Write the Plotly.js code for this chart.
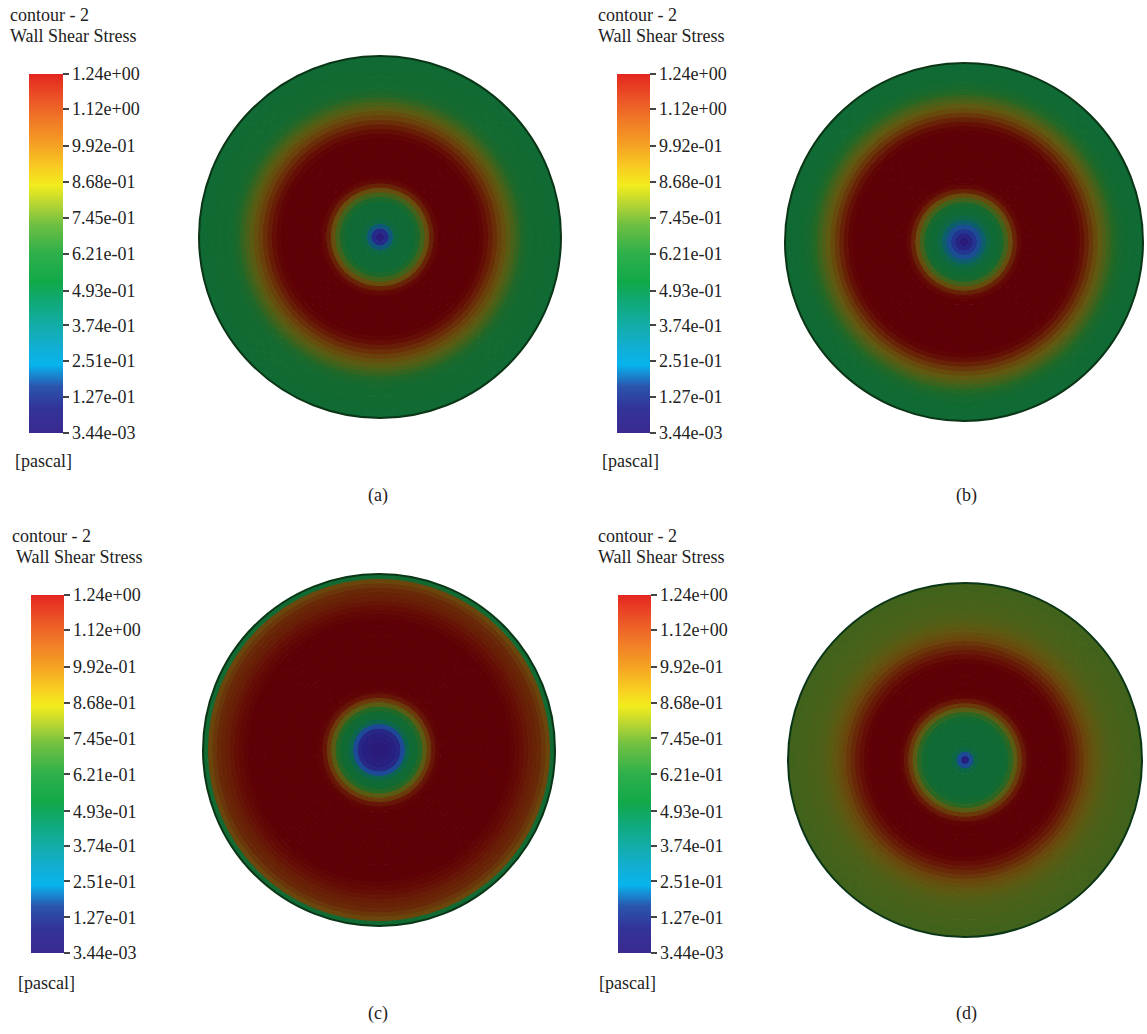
<!DOCTYPE html>
<html>
<head>
<meta charset="utf-8">
<script src="https://cdn.plot.ly/plotly-3.0.1.min.js"></script>
<style>html,body{margin:0;padding:0;background:#fff;}#chart{width:1147px;height:1034px;}</style>
</head>
<body>
<div id="chart"></div>
<script>
// ---- data ----
const tickValues = [0.00344, 0.127, 0.251, 0.374, 0.493, 0.621, 0.745, 0.868, 0.992, 1.12, 1.24];
const tickLabels = ["3.44e-03", "1.27e-01", "2.51e-01", "3.74e-01", "4.93e-01", "6.21e-01", "7.45e-01", "8.68e-01", "9.92e-01", "1.12e+00", "1.24e+00"];
const panelLabels = ["(a)", "(b)", "(c)", "(d)"];
const titleLine1 = "contour - 2";
const titleLine2 = "Wall Shear Stress";
const unitLabel = "[pascal]";

// normalised radius of ring edges (0 = centre, 1 = disk rim)
const radiusEdges = [0, 0.025, 0.05, 0.075, 0.1, 0.125, 0.15, 0.175, 0.2, 0.225,
  0.25, 0.275, 0.3, 0.325, 0.35, 0.375, 0.4, 0.425, 0.45, 0.475,
  0.5, 0.525, 0.55, 0.575, 0.6, 0.625, 0.65, 0.675, 0.7, 0.725,
  0.75, 0.775, 0.8, 0.825, 0.85, 0.875, 0.9, 0.925, 0.95, 0.975, 1.0];

// wall shear stress [Pa] read along the radius of each disk
const wssA = [0.02, 0.08, 0.30, 0.50, 0.56, 0.58, 0.58, 0.60, 0.68, 0.80,
  0.95, 1.10, 1.20, 1.24, 1.24, 1.24, 1.24, 1.24, 1.24, 1.24,
  1.24, 1.24, 1.22, 1.18, 1.12, 1.06, 1.00, 0.94, 0.88, 0.82,
  0.76, 0.70, 0.66, 0.64, 0.63, 0.64, 0.63, 0.62, 0.62, 0.60];
const wssB = [0.01, 0.05, 0.12, 0.22, 0.35, 0.48, 0.56, 0.60, 0.66, 0.80,
  0.95, 1.10, 1.20, 1.24, 1.24, 1.24, 1.24, 1.24, 1.24, 1.24,
  1.24, 1.24, 1.24, 1.24, 1.24, 1.22, 1.17, 1.10, 1.03, 0.96,
  0.90, 0.84, 0.78, 0.72, 0.67, 0.64, 0.62, 0.62, 0.61, 0.60];
const wssC = [0.01, 0.01, 0.02, 0.03, 0.06, 0.20, 0.45, 0.58, 0.62, 0.72,
  0.88, 1.02, 1.15, 1.22, 1.24, 1.24, 1.24, 1.24, 1.24, 1.24,
  1.24, 1.24, 1.24, 1.24, 1.24, 1.24, 1.24, 1.24, 1.24, 1.24,
  1.22, 1.20, 1.18, 1.15, 1.12, 1.10, 1.08, 1.03, 0.98, 0.62];
const wssD = [0.03, 0.22, 0.48, 0.56, 0.58, 0.58, 0.58, 0.58, 0.60, 0.64,
  0.74, 0.88, 1.02, 1.14, 1.22, 1.24, 1.24, 1.24, 1.24, 1.24,
  1.24, 1.24, 1.22, 1.18, 1.13, 1.08, 1.03, 0.98, 0.94, 0.91,
  0.88, 0.86, 0.84, 0.83, 0.82, 0.82, 0.81, 0.81, 0.80, 0.80];
const panelValues = [wssA, wssB, wssC, wssD];

// ---- styles ----
const W = 1147, H = 1034;
const barScale = [
  [0.00, '#3a2a8e'], [0.07, '#33339a'], [0.13, '#2a55ad'], [0.19, '#08b4ee'],
  [0.24, '#12aed2'], [0.30, '#13ada8'], [0.36, '#10a97a'], [0.42, '#11a84a'],
  [0.50, '#2eb04a'], [0.58, '#6ebf42'], [0.64, '#b9d632'], [0.69, '#f2ec1c'],
  [0.74, '#f8cc22'], [0.80, '#f5a223'], [0.87, '#f07a27'], [0.93, '#ec5527'],
  [1.00, '#e3261f']];
const diskScale = [
  [0.00, '#2a1a7a'], [0.08, '#24308f'], [0.16, '#1c4a96'], [0.25, '#0e5a78'],
  [0.33, '#0b6458'], [0.42, '#0e6a3c'], [0.50, '#106a32'], [0.58, '#246826'],
  [0.65, '#44621a'], [0.72, '#5e5a12'], [0.79, '#6a460c'], [0.86, '#6a2c08'],
  [0.93, '#661406'], [1.00, '#5e0006']];
const serif = "'Liberation Serif', 'DejaVu Serif', serif";

// layout geometry in pixels
const disks = [
  {cx: 380, cy: 237, r: 181},
  {cx: 964, cy: 242, r: 179},
  {cx: 379, cy: 750, r: 176},
  {cx: 965, cy: 760, r: 177}];
const bars = [
  {left: 29, top: 74, bottom: 433, thick: 34},
  {left: 617, top: 74, bottom: 433, thick: 33},
  {left: 31, top: 595, bottom: 953, thick: 33},
  {left: 618, top: 595, bottom: 953, thick: 33}];
const texts = [
  {t1: [8, 15], t2: [8, 36], unit: [13, 461], cap: [378, 495]},
  {t1: [596, 15], t2: [596, 36], unit: [600, 461], cap: [966, 495]},
  {t1: [10, 536], t2: [14, 557], unit: [16, 983], cap: [378, 1013]},
  {t1: [596, 536], t2: [596, 557], unit: [597, 983], cap: [966, 1013]}];

const cmin = tickValues[0], cmax = tickValues[tickValues.length - 1];
const ringWidths = radiusEdges.slice(1).map((e, i) => e - radiusEdges[i]);
const ringBases = radiusEdges.slice(0, -1);

const data = [];
const layout = {
  width: W, height: H,
  margin: {l: 0, r: 0, t: 0, b: 0},
  paper_bgcolor: '#ffffff',
  showlegend: false,
  hovermode: false,
  annotations: []
};

panelValues.forEach((vals, i) => {
  const key = i === 0 ? 'polar' : 'polar' + (i + 1);
  const d = disks[i];
  layout[key] = {
    domain: {
      x: [(d.cx - d.r) / W, (d.cx + d.r) / W],
      y: [1 - (d.cy + d.r) / H, 1 - (d.cy - d.r) / H]
    },
    bgcolor: 'rgba(0,0,0,0)',
    radialaxis: {visible: false, range: [0, 1], showgrid: false},
    angularaxis: {showgrid: false, ticks: '', showticklabels: false,
      showline: true, linecolor: '#0a3516', linewidth: 2}
  };
  data.push({
    type: 'barpolar',
    subplot: key,
    r: ringWidths,
    base: ringBases,
    theta: ringWidths.map(() => 0),
    width: 360,
    marker: {
      color: vals, colorscale: diskScale, cmin: cmin, cmax: cmax, showscale: false,
      line: {width: 1, color: vals, colorscale: diskScale, cmin: cmin, cmax: cmax}
    },
    hoverinfo: 'skip'
  });
  const b = bars[i];
  data.push({
    type: 'scatterpolar',
    subplot: key,
    r: [0, 0], theta: [0, 0],
    mode: 'markers',
    marker: {
      size: 1, opacity: 0,
      color: [cmin, cmax], colorscale: barScale, cmin: cmin, cmax: cmax,
      showscale: true,
      colorbar: {
        x: b.left / W, xanchor: 'left', xpad: 0,
        y: 1 - (b.top + b.bottom) / 2 / H, yanchor: 'middle', ypad: 0,
        lenmode: 'pixels', len: b.bottom - b.top,
        thickness: b.thick, thicknessmode: 'pixels',
        outlinewidth: 0,
        tickvals: tickValues, ticktext: tickLabels,
        ticks: 'outside', ticklen: 6, tickwidth: 2, tickcolor: '#444',
        tickfont: {family: serif, size: 18, color: '#222'}
      }
    },
    hoverinfo: 'skip'
  });
  const t = texts[i];
  const ann = (txt, p, anchor) => ({
    text: txt, x: p[0] / W, y: 1 - p[1] / H, xref: 'paper', yref: 'paper',
    xanchor: anchor, yanchor: 'middle', showarrow: false,
    font: {family: serif, size: 18, color: '#222'}
  });
  layout.annotations.push(ann(titleLine1, t.t1, 'left'));
  layout.annotations.push(ann(titleLine2, t.t2, 'left'));
  layout.annotations.push(ann(unitLabel, t.unit, 'left'));
  layout.annotations.push(ann(panelLabels[i], t.cap, 'center'));
});

Plotly.newPlot('chart', data, layout, {staticPlot: true, displayModeBar: false});
</script>
</body>
</html>
